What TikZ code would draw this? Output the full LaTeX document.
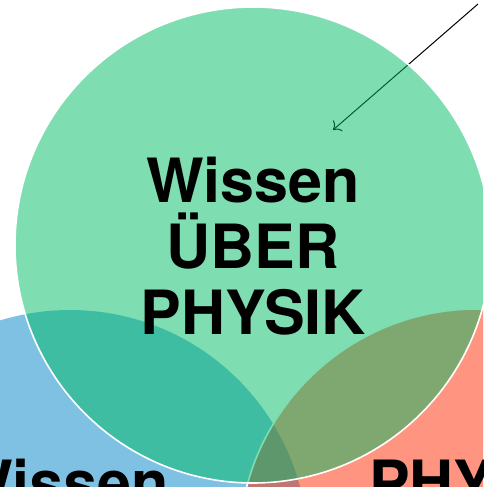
\documentclass[tikz,border=0pt]{standalone}
\usepackage{fontspec}
\setmainfont{TeX Gyre Heros}
\usetikzlibrary{arrows.meta}

\definecolor{gruen}{RGB}{0,187,101}
\definecolor{blau}{RGB}{0,131,199}
\definecolor{rot}{RGB}{255,43,1}

\begin{document}
\begin{tikzpicture}[x=1pt,y=-1pt,>={To[scale=1.8]}]
\tikzstyle{kreis}=[circle,minimum size=476pt,inner sep=0pt,fill opacity=0.5,draw=white,line width=1.6pt]
\tikzstyle{titel}=[font=\fontsize{61}{66}\selectfont\bfseries,text=black,align=center,inner sep=0pt]

\useasboundingbox (0,0) rectangle (483,487);
\clip (0,0) rectangle (483,487);

% Kreise
\node[kreis,fill=blau,draw=none] (B) at (70,548) {};
\node[kreis,fill=rot]            (R) at (477,547) {};
\coordinate (S) at (478,4);
\coordinate (T) at (333,130);
\draw[->,line width=1pt] (S) -- (T);
\node[kreis,fill=gruen]          (G) at (253,245) {};

% Texte
\node[titel,anchor=base]      (GT) at (253,334) {Wissen\\ÜBER\\PHYSIK};
\node[titel,anchor=base west] (BT) at (-45,504) {Wissen};
\node[titel,anchor=base west] (RT) at (369,504) {PHY};
\end{tikzpicture}
\end{document}
